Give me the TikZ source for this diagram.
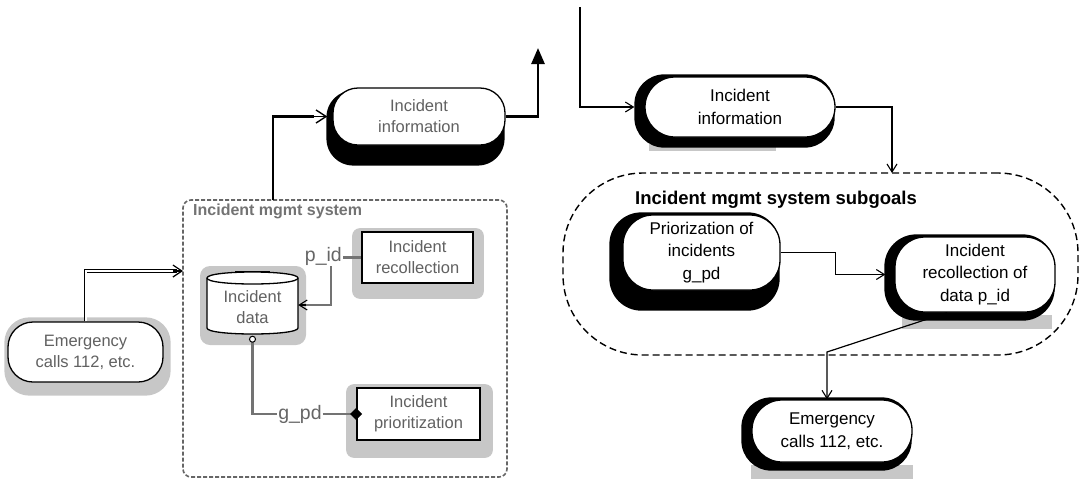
\documentclass[tikz,border=0pt]{standalone}
\usepackage{fontspec}
\setmainfont{Liberation Sans}
\usetikzlibrary{arrows.meta,backgrounds,calc}

\begin{document}
\begin{tikzpicture}[x=1pt,y=-1pt,
  txt/.style={font=\fontsize{16.5}{21}\selectfont, align=center, inner sep=0pt},
  pillL/.style={txt, draw, line width=1.3pt, fill=white, rounded corners=25pt, text=black!62},
  boxL/.style={txt, draw, line width=1.8pt, fill=white, text=black!62},
  pillR/.style={txt, draw, line width=1.3pt, fill=white, rounded corners=30pt,
    font=\fontsize{17}{22.5}\selectfont},
  halo/.style={fill=black!22, draw=none},
  heavy/.style={fill=black, draw=none},
  lbl/.style={font=\fontsize{19.5}{22}\selectfont, text=black!60, inner sep=1pt},
  thinflow/.style={line width=1.2pt, -{Straight Barb[length=8pt,width=10pt,line width=1.1pt]}},
  greyflow/.style={line width=2.6pt, draw=black!55},
  boldflow/.style={line width=2.6pt},
]
\useasboundingbox (0,0) rectangle (1079,483);

% ---------------- left: incident management system ----------------
\node[draw=black!60, line width=1.6pt, dash pattern=on 4pt off 2pt, rounded corners=8pt,
      minimum width=324pt, minimum height=277pt] (sys) at (345,338.5) {};
\node[anchor=north west, font=\fontsize{16}{18}\selectfont\bfseries, text=black!55, inner sep=0pt]
      (syslbl) at (193,204) {Incident mgmt system};

\node[pillL, minimum width=155pt, minimum height=60pt] (emL) at (85.5,352) {Emergency\\calls 112, etc.};

% cylinder outline of the data store
\draw[fill=white, line width=1.3pt]
  (207,278) -- (207,328) .. controls (207,336) and (298,336) .. (298,328)
  -- (298,278) .. controls (298,270) and (207,270) .. (207,278) -- cycle;
\draw[line width=1.3pt] (207,278) .. controls (207,286) and (298,286) .. (298,278);
\draw[line width=1.3pt] (235,271.5) -- (270,271.5);
\node[txt, text=black!62, minimum width=91pt, minimum height=62pt] (data) at (252.5,305) {\\[-4pt]Incident\\data};

\node[boxL, minimum width=111pt, minimum height=51pt] (rec) at (417.5,257.5) {Incident\\recollection};
\node[boxL, minimum width=123pt, minimum height=52pt] (pri) at (418.5,414) {Incident\\prioritization};

\begin{scope}[on background layer]
  \fill[halo, rounded corners=25pt] ($(emL.north west)+(-3,-4)$) rectangle ($(emL.south east)+(7,13)$);
  \fill[halo, rounded corners=10pt] (200,266) rectangle (306,345);
  \fill[halo, rounded corners=8pt] ($(rec.north west)+(-9,-3)$) rectangle ($(rec.south east)+(10,15)$);
  \fill[halo, rounded corners=8pt] ($(pri.north west)+(-10,-3)$) rectangle ($(pri.south east)+(12,17)$);
\end{scope}

% input from emergency calls into the system
\coordinate (sysIn) at (183,271);
\draw[draw=black, double=white, double distance=2pt, line width=0.9pt] (emL.north) |- ($(sysIn)+(-6,0)$);
\draw[line width=1.2pt, -{Straight Barb[length=9pt,width=12pt,line width=1.2pt]}] ($(sysIn)+(-10,0)$) -- (sysIn);

% p_id : recollection writes the incident data
\draw[greyflow] (rec.west) -- ++(-30,0) |- ($(data.east)+(4,0)$);
\draw[line width=1.2pt, -{Straight Barb[length=8pt,width=10pt,line width=1.1pt]}] ($(data.east)+(8,0)$) -- (data.east);
\node[lbl, fill=white, anchor=east] (pid) at (343,256) {p\_id};

% g_pd : prioritization reads the incident data
\node[lbl, fill=white] (gpd) at (300,414) {g\_pd};
\draw[greyflow] (data.south) |- (gpd.west);
\draw[greyflow] (gpd.east) -- (pri.west);
\draw[fill=white, line width=1pt] ($(data.south)+(0,3)$) circle[radius=3pt];
\fill[black] (pri.west) ++(-6,0) -- ++(6,-6) -- ++(6,6) -- ++(-6,6) -- cycle;

% incident information produced by the system
\node[pillL, text=black!62, minimum width=172pt, minimum height=57pt] (infoL) at (419,116.5) {Incident\\information};
\begin{scope}[on background layer]
  \fill[heavy, rounded corners=27pt] ($(infoL.north west)+(-6,3)$) rectangle ($(infoL.south east)+(-1,20)$);
\end{scope}
\coordinate (sysOut) at (273,200);
\draw[boldflow] (sysOut) |- ($(infoL.west)+(-18,0)$);
\draw[line width=1.4pt, -{Straight Barb[length=10pt,width=13pt,line width=1.4pt]}] ($(infoL.west)+(-22,0)$) -- ([xshift=-5pt]infoL.west);
\coordinate (outUp) at (538,48);
\draw[boldflow, -{Triangle[length=16pt,width=13pt]}] (infoL.east) -| (outUp);

% ---------------- right: goal view ----------------
\coordinate (inTop) at (580,7);
\node[pillR, minimum width=190pt, minimum height=60pt] (infoR) at (740,107) {Incident\\information};

\node[draw, line width=1.4pt, dash pattern=on 7pt off 4pt, rounded corners=80pt,
      minimum width=515pt, minimum height=182pt] (sub) at (820.5,264) {};
\node[anchor=west, font=\fontsize{18.5}{21}\selectfont\bfseries, inner sep=0pt] (sublbl) at (635,200)
      {Incident mgmt system subgoals};

\node[pillR, minimum width=157pt, minimum height=75pt] (prio) at (701.5,252.5) {Priorization of\\incidents\\g\_pd};
\node[pillR, minimum width=160pt, minimum height=75pt] (recR) at (975,274.5) {Incident\\recollection of\\data p\_id};
\node[pillR, minimum width=160pt, minimum height=62pt] (emR) at (832,431) {Emergency\\calls 112, etc.};

\begin{scope}[on background layer]
  \fill[black!22] ($(infoR.south west)+(5,6)$) rectangle ($(infoR.south east)+(-60,13)$);
  \fill[heavy, rounded corners=30pt] ($(infoR.north west)+(-10,-2)$) rectangle ($(infoR.south east)+(-1,10)$);
  \fill[heavy, rounded corners=32pt] ($(prio.north west)+(-13,-2)$) rectangle ($(prio.south east)+(-1,20)$);
  \fill[black!22] ($(recR.south west)+(8,2)$) rectangle ($(recR.south east)+(-4,16)$);
  \fill[heavy, rounded corners=32pt] ($(recR.north west)+(-10,-2)$) rectangle ($(recR.south east)+(-1,8)$);
  \fill[black!22] ($(emR.south west)+(0,2)$) rectangle ($(emR.south east)+(0,16)$);
  \fill[heavy, rounded corners=30pt] ($(emR.north west)+(-10,-2)$) rectangle ($(emR.south east)+(-1,8)$);
\end{scope}

\draw[thinflow, shorten >=10pt] (inTop) |- (infoR.west);
\coordinate (subIn) at (892,173);
\draw[thinflow] (infoR.east) -| (subIn);
\draw[thinflow, shorten >=9pt] (prio.east) -- ++(55,0) |- (recR.west);
\coordinate (subOut) at (827,352);
\draw[thinflow] ([xshift=-28pt]recR.south) -- (subOut) -- (subOut |- emR.north);
\end{tikzpicture}
\end{document}
